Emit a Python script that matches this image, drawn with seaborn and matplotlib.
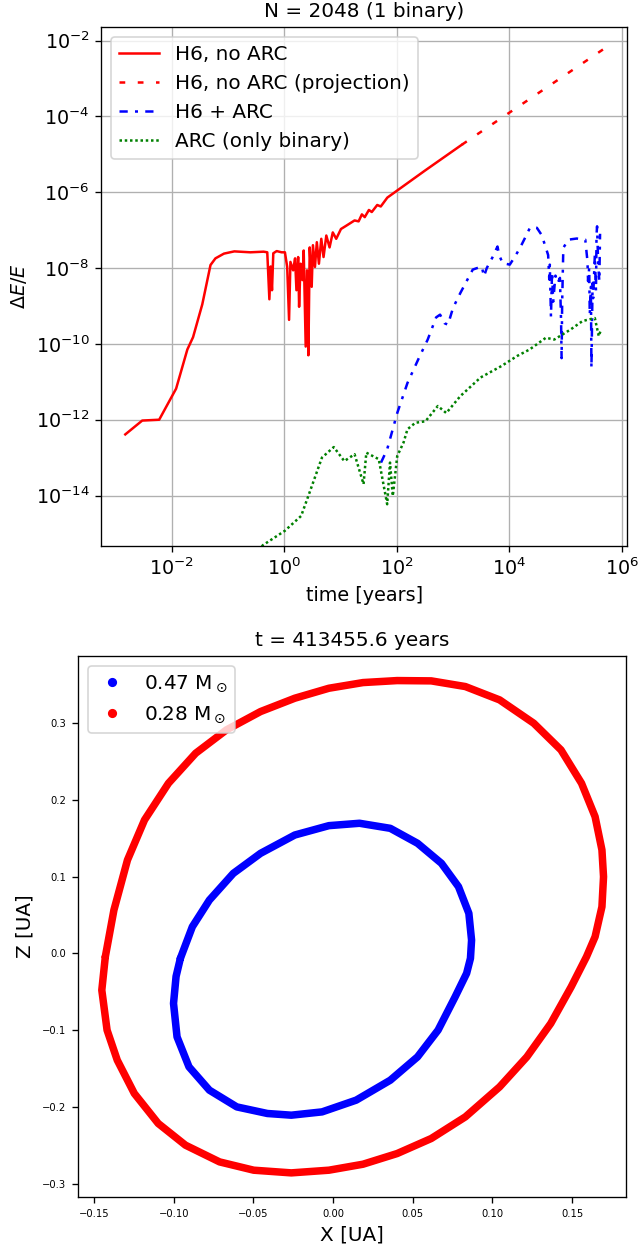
import numpy as np
import pandas as pd
import matplotlib
matplotlib.use("Agg")
import matplotlib.pyplot as plt
import matplotlib.ticker as ticker
from matplotlib.lines import Line2D
import seaborn as sns

# Energy error vs time
t_h6 = [1.5e-3, 3.0e-3, 6.0e-3, 1.2e-2, 1.9e-2, 2.4e-2, 3.5e-2, 4.9e-2, 6.0e-2, 8.5e-2,
        0.13, 0.25, 0.43, 0.50, 0.545, 0.575, 0.607, 0.64, 0.735, 0.90,
        1.03, 1.13, 1.22, 1.29, 1.44, 1.56, 1.65, 1.77, 1.84, 1.95,
        2.11, 2.22, 2.41, 2.54, 2.69, 2.84, 3.08, 3.24, 3.52, 3.80,
        4.14, 4.56, 5.0, 5.6, 6.4, 7.3, 8.4, 10.2, 12.6, 17.8,
        21, 24, 27, 32, 36, 45, 52, 68, 316, 1445]
de_h6 = [4.1e-13, 9.5e-13, 1.0e-12, 6.6e-12, 7.1e-11, 1.5e-10, 1.1e-9, 1.2e-8, 1.8e-8, 2.4e-8,
         2.75e-8, 2.6e-8, 2.7e-8, 2.6e-8, 1.5e-9, 1.1e-8, 2.6e-9, 2.45e-8, 2.8e-8, 2.6e-8,
         2.6e-8, 1.07e-8, 4.3e-10, 1.45e-8, 8.7e-9, 1.8e-8, 2.6e-9, 1.95e-8, 9.5e-10, 1.3e-8,
         4.8e-9, 2.9e-8, 8.5e-11, 8.7e-9, 5.0e-11, 3.5e-8, 3.2e-9, 4.0e-8, 1.07e-8, 4.8e-8,
         1.3e-8, 5.9e-8, 1.95e-8, 7.2e-8, 3.5e-8, 8.7e-8, 5.9e-8, 1.07e-7, 1.3e-7, 1.8e-7,
         1.7e-7, 2.6e-7, 2.2e-7, 3.4e-7, 3.0e-7, 4.6e-7, 4.2e-7, 7.2e-7, 3.7e-6, 1.8e-5]

t_proj = [1445, 4.7e5]
de_proj = [1.8e-5, 5.9e-3]

t_arc = [52.5, 67.6, 102, 155, 257, 355, 501, 589, 708, 813,
         1000, 1350, 2240, 3240, 3550, 3980, 5010, 6170, 6610, 7590,
         1.02e4, 1.26e4, 1.55e4, 1.9e4, 2.34e4, 3.09e4, 3.72e4, 4.27e4, 4.9e4, 5.13e4,
         5.25e4, 5.5e4, 5.75e4, 6.03e4, 6.6e4, 7.24e4, 7.94e4, 8.32e4, 8.5e4, 8.7e4,
         9.12e4, 1.12e5, 1.58e5, 2.24e5, 2.45e5, 2.51e5, 2.63e5, 2.69e5, 2.82e5, 2.88e5,
         3.02e5, 3.09e5, 3.31e5, 3.47e5, 3.55e5, 3.63e5, 3.8e5, 3.98e5, 4.1e5]
de_arc = [7.4e-14, 1.66e-13, 1.5e-12, 9.3e-12, 4.8e-11, 1.3e-10, 5.0e-10, 5.9e-10, 3.5e-10, 3.2e-10,
          8.9e-10, 2.2e-9, 9.1e-9, 1.1e-8, 6.0e-9, 1.0e-8, 1.9e-8, 3.7e-8, 2.2e-8, 1.35e-8,
          1.23e-8, 2.0e-8, 3.4e-8, 6.2e-8, 1.17e-7, 1.15e-7, 7.6e-8, 4.2e-8, 2.2e-8, 5.0e-9,
          1.23e-8, 5.2e-10, 7.9e-9, 1.3e-9, 6.3e-9, 4.0e-9, 5.5e-9, 4.0e-10, 4.2e-11, 1.26e-9,
          3.4e-8, 5.6e-8, 6.0e-8, 5.6e-8, 1.5e-8, 4.5e-9, 1.0e-8, 5.9e-10, 3.2e-9, 2.3e-11,
          4.0e-9, 1.6e-9, 2.2e-8, 2.5e-9, 7.6e-8, 1.26e-7, 1.23e-8, 4.5e-9, 8.0e-8]

t_bin = [0.355, 0.417, 1.02, 2.0, 2.82, 4.68, 7.6, 11.7, 17.8, 25.7,
         28.8, 47.9, 67.6, 75.9, 85.1, 102, 132, 155, 214, 324,
         537, 759, 1350, 3090, 7240, 1.38e4, 2.29e4, 4.47e4, 6.3e4, 1.23e5,
         2.0e5, 3.31e5, 3.89e5, 4.27e5]
de_bin = [3.5e-16, 4.9e-16, 1.17e-15, 2.9e-15, 1.2e-14, 1.0e-13, 1.9e-13, 8.1e-14, 1.23e-13, 2.0e-14,
          1.35e-13, 9.1e-14, 5.9e-15, 7.4e-14, 9.8e-15, 1.1e-13, 2.5e-13, 5.6e-13, 8.3e-13, 9.1e-13,
          2.3e-12, 1.5e-12, 4.2e-12, 1.3e-11, 2.6e-11, 4.8e-11, 7.1e-11, 1.45e-10, 1.3e-10, 2.4e-10,
          4.0e-10, 4.8e-10, 1.6e-10, 2.4e-10]

# Orbits in the X-Z plane (last snapshot)
x_star1 = [-0.0958, -0.0883, -0.0776, -0.0626, -0.0455, -0.024, -0.0026, 0.0166, 0.0359, 0.053,
           0.068, 0.0787, 0.0852, 0.0869, 0.0862, 0.0838, 0.0766, 0.0659, 0.053, 0.0359,
           0.0145, -0.0069, -0.0262, -0.0412, -0.0604, -0.0776, -0.0904, -0.0979, -0.1001, -0.0985,
           -0.0958]
z_star1 = [-0.0065, 0.0347, 0.0695, 0.1043, 0.1304, 0.1543, 0.1665, 0.1696, 0.163, 0.1435,
           0.1174, 0.0869, 0.0522, 0.0173, -0.0065, -0.026, -0.0566, -0.1, -0.1349, -0.1653,
           -0.1913, -0.2066, -0.2109, -0.2087, -0.2001, -0.1783, -0.1479, -0.1088, -0.0652, -0.03,
           -0.0065]

x_star2 = [-0.1429, -0.1375, -0.129, -0.1183, -0.1033, -0.0862, -0.0669, -0.0455, -0.024, -0.0026,
           0.0188, 0.0402, 0.0616, 0.083, 0.1045, 0.1259, 0.143, 0.1559, 0.1644, 0.1687,
           0.1697, 0.1687, 0.1644, 0.159, 0.1494, 0.1366, 0.1216, 0.1045, 0.083, 0.0616,
           0.0402, 0.0188, -0.0026, -0.0262, -0.0498, -0.0712, -0.0926, -0.1097, -0.1247, -0.1354,
           -0.1418, -0.1451, -0.1429]
z_star2 = [-0.0044, 0.0565, 0.1217, 0.1739, 0.2217, 0.2609, 0.2913, 0.3152, 0.3326, 0.3456,
           0.353, 0.3556, 0.3552, 0.3478, 0.3304, 0.30, 0.2652, 0.2217, 0.1782, 0.1348,
           0.0999, 0.0608, 0.0217, -0.0044, -0.0436, -0.0913, -0.1349, -0.174, -0.2131, -0.2413,
           -0.2609, -0.2748, -0.2826, -0.2861, -0.2826, -0.2718, -0.25, -0.2217, -0.1826, -0.1392,
           -0.1, -0.0479, -0.0044]

mass_labels = [r"0.47 M$_\odot$", r"0.28 M$_\odot$"]
x_ticks = [1e-2, 1e0, 1e2, 1e4, 1e6]
y_ticks = [1e-14, 1e-12, 1e-10, 1e-8, 1e-6, 1e-4, 1e-2]

fig = plt.figure(figsize=(638 / 120, 1244 / 120), dpi=120)
ax1 = fig.add_axes([0.1588, 0.5611, 0.8247, 0.4170])
ax2 = fig.add_axes([0.1216, 0.0375, 0.8596, 0.4354])

# top panel: energy error
sns.lineplot(data=pd.DataFrame({"t": t_h6, "de": de_h6}), x="t", y="de", ax=ax1,
             color="red", lw=1.5, sort=False, estimator=None, label="H6, no ARC")
sns.lineplot(data=pd.DataFrame({"t": t_proj, "de": de_proj}), x="t", y="de", ax=ax1,
             color="red", lw=1.5, linestyle=(0, (2.3, 5.0)), sort=False, estimator=None,
             label="H6, no ARC (projection)")
sns.lineplot(data=pd.DataFrame({"t": t_arc, "de": de_arc}), x="t", y="de", ax=ax1,
             color="blue", lw=1.5, linestyle=(0, (3.3, 2.9, 1.2, 2.9)), sort=False,
             estimator=None, label="H6 + ARC")
sns.lineplot(data=pd.DataFrame({"t": t_bin, "de": de_bin}), x="t", y="de", ax=ax1,
             color="green", lw=1.5, linestyle=(0, (1.0, 1.1)), sort=False, estimator=None,
             label="ARC (only binary)")

ax1.set_xscale("log")
ax1.set_yscale("log")
ax1.set_xticks(x_ticks)
ax1.set_yticks(y_ticks)
ax1.xaxis.set_minor_locator(ticker.NullLocator())
ax1.yaxis.set_minor_locator(ticker.NullLocator())
ax1.set_xlim(10 ** -3.25, 10 ** 6.10)
ax1.set_ylim(10 ** -15.33, 10 ** -1.65)
ax1.tick_params(labelsize=11.5)
ax1.grid(True, color="#b0b0b0", lw=0.8)
ax1.set_xlabel("time [years]", fontsize=11.5)
ax1.set_ylabel(r"$\Delta E/E$", fontsize=11.5)
ax1.set_title("N = 2048 (1 binary)", fontsize=12)
ax1.legend(loc="upper left", fontsize=12)

# bottom panel: orbits
sns.lineplot(data=pd.DataFrame({"x": x_star1, "z": z_star1}), x="x", y="z", ax=ax2,
             color="blue", lw=4.5, sort=False, estimator=None, legend=False)
sns.lineplot(data=pd.DataFrame({"x": x_star2, "z": z_star2}), x="x", y="z", ax=ax2,
             color="red", lw=4.5, sort=False, estimator=None, legend=False)
for ln in ax2.get_lines():
    ln.set_solid_joinstyle("round")
    ln.set_solid_capstyle("round")

ax2.set_xlim(-0.1603, 0.1838)
ax2.set_ylim(-0.318, 0.388)
ax2.tick_params(labelsize=6)
ax2.set_xlabel("X [UA]", fontsize=12)
ax2.set_ylabel("Z [UA]", fontsize=12)
ax2.set_title("t = 413455.6 years", fontsize=12)
handles = [Line2D([], [], marker="o", ls="", color=c, markersize=4.5) for c in ("blue", "red")]
ax2.legend(handles, mass_labels, loc="upper left", fontsize=12, handlelength=1.6)

fig.savefig("out.png", dpi=120)
